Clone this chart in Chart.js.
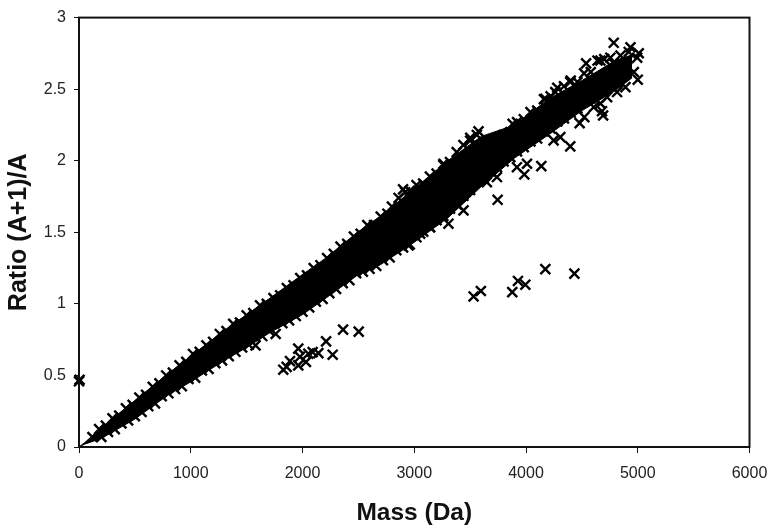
<!DOCTYPE html>
<html lang="en">
<head>
  <meta charset="UTF-8">
  <title>Ratio (A+1)/A vs Mass</title>
  <script src="https://cdn.jsdelivr.net/npm/chart.js"></script>
  <style>
    body { margin: 0; background: #fff; }
  </style>
</head>
<body>
  <canvas id="chart" width="772" height="525"></canvas>
  <script>
    const xTicks = [0, 1000, 2000, 3000, 4000, 5000, 6000];
    const yTicks = [0, 0.5, 1, 1.5, 2, 2.5, 3];

    // saturated middle of the cloud, too overplotted to read single marks: envelope only
    const coreMass = [0, 50, 200, 500, 800, 1000, 1300, 1500, 1700, 2000, 2200, 2500, 2700, 3000, 3300, 3600, 3900, 4200, 4500, 4800, 4950];
    const coreHigh = [0, 0.03, 0.135, 0.325, 0.515, 0.635, 0.815, 0.925, 1.035, 1.205, 1.315, 1.505, 1.615, 1.805, 2.0, 2.17, 2.25, 2.43, 2.56, 2.70, 2.74];
    const coreLow = [0, 0.02, 0.06, 0.195, 0.365, 0.455, 0.605, 0.695, 0.795, 0.925, 1.035, 1.205, 1.275, 1.43, 1.60, 1.82, 2.02, 2.18, 2.35, 2.49, 2.58];

    // marks on the upper edge of the cloud
    const upperMass = [120, 180, 240, 300, 360, 420, 480, 540, 600, 660, 720, 780, 840, 900, 960, 1020, 1080, 1140, 1200, 1260, 1320, 1380, 1440, 1500, 1560, 1620, 1680, 1740, 1800, 1860, 1920, 1980, 2040, 2100, 2160, 2220, 2280, 2340, 2400, 2460, 2520, 2580, 2640, 2700, 2760, 2800, 2860, 2900, 2960, 3020, 3080, 3140, 3200, 3260, 3320, 3380, 3440, 3500, 3560, 3620, 3680, 3740, 3800, 3860, 3920, 3980, 4040, 4100, 4160, 4220, 4280, 4340, 4400, 4460, 4520, 4580, 4640, 4700];
    const upperRatio = [0.07, 0.125, 0.15, 0.20, 0.22, 0.27, 0.295, 0.345, 0.365, 0.42, 0.445, 0.50, 0.52, 0.57, 0.595, 0.65, 0.665, 0.71, 0.735, 0.79, 0.81, 0.86, 0.87, 0.92, 0.935, 0.99, 1.0, 1.04, 1.06, 1.11, 1.13, 1.18, 1.20, 1.25, 1.27, 1.32, 1.35, 1.40, 1.42, 1.47, 1.49, 1.55, 1.55, 1.61, 1.63, 1.68, 1.74, 1.80, 1.79, 1.83, 1.84, 1.89, 1.91, 1.97, 1.99, 2.06, 2.11, 2.14, 2.18, 2.12, 2.12, 2.14, 2.18, 2.20, 2.27, 2.29, 2.34, 2.35, 2.43, 2.45, 2.51, 2.52, 2.56, 2.55, 2.61, 2.62, 2.70, 2.71];

    // marks on the lower edge of the cloud
    const lowerMass = [200, 260, 320, 380, 440, 500, 560, 620, 680, 740, 800, 860, 920, 980, 1040, 1100, 1160, 1220, 1280, 1340, 1400, 1460, 1520, 1580, 1640, 1700, 1760, 1820, 1880, 1940, 2000, 2060, 2120, 2180, 2240, 2300, 2360, 2420, 2480, 2540, 2600, 2660, 2720, 2780, 2840, 2900, 2960, 3020, 3080, 3140, 3200, 3260, 3320, 3380, 3440, 3500, 3560, 3620, 3680, 3740, 3800, 3860, 3920, 3980, 4040, 4100, 4160, 4220, 4280, 4340, 4400, 4460, 4520, 4580, 4640, 4700, 4760, 4820];
    const lowerRatio = [0.07, 0.105, 0.125, 0.165, 0.185, 0.215, 0.245, 0.285, 0.305, 0.355, 0.375, 0.405, 0.425, 0.475, 0.485, 0.535, 0.545, 0.585, 0.605, 0.635, 0.665, 0.695, 0.715, 0.71, 0.775, 0.815, 0.79, 0.865, 0.885, 0.915, 0.945, 0.975, 1.015, 1.035, 1.075, 1.105, 1.145, 1.165, 1.215, 1.225, 1.245, 1.265, 1.305, 1.325, 1.375, 1.395, 1.415, 1.465, 1.505, 1.535, 1.585, 1.615, 1.665, 1.695, 1.755, 1.795, 1.855, 1.875, 1.925, 1.955, 1.995, 2.025, 2.065, 2.095, 2.135, 2.155, 2.205, 2.225, 2.275, 2.295, 2.335, 2.365, 2.415, 2.435, 2.475, 2.485, 2.525, 2.545];

    // marks that stand apart and can be read one by one
    const looseMass = [0, 5, 1828, 1858, 1888, 1962, 1962, 1977, 2031, 2052, 2091, 2142, 2211, 2270, 2363, 2503, 3531, 3596, 3877, 3928, 3994, 4173, 4433, 3746, 4137, 3985, 4396, 4785, 4935, 5009, 5000, 4538, 4690, 4680, 4480, 4522, 4247, 4307, 4396, 4262, 4173, 3880, 3575, 3501, 3262, 2918, 3306, 3441, 3142, 3053, 2948, 4009, 3919, 3650, 3740, 4666, 4755, 4845, 4919, 4995, 4785, 4905, 4965, 4890, 4815, 4726, 4666, 4606];
    const looseRatio = [0.459, 0.47, 0.54, 0.56, 0.60, 0.687, 0.57, 0.63, 0.594, 0.652, 0.663, 0.656, 0.738, 0.645, 0.82, 0.806, 1.052, 1.09, 1.082, 1.16, 1.134, 1.243, 1.211, 1.727, 1.962, 1.904, 2.10, 2.824, 2.793, 2.751, 2.566, 2.68, 2.316, 2.346, 2.263, 2.305, 2.142, 2.165, 2.55, 2.479, 2.433, 2.258, 2.205, 2.16, 1.979, 1.78, 1.56, 1.653, 1.536, 1.49, 1.408, 1.979, 1.955, 1.85, 1.886, 2.70, 2.72, 2.735, 2.76, 2.72, 2.68, 2.65, 2.62, 2.514, 2.48, 2.444, 2.40, 2.374];

    function pairs(xs, ys) {
      return xs.map((x, i) => ({ x: x, y: ys[i] }));
    }

    const markPoints = pairs(upperMass, upperRatio)
      .concat(pairs(lowerMass, lowerRatio))
      .concat(pairs(looseMass, looseRatio));

    const frame = {
      id: 'frame',
      afterDatasetsDraw(chart) {
        const a = chart.chartArea;
        const ctx = chart.ctx;
        ctx.save();
        ctx.strokeStyle = '#111';
        ctx.lineWidth = 2;
        ctx.strokeRect(a.left, a.top, a.right - a.left, a.bottom - a.top);
        ctx.restore();
      }
    };

    new Chart(document.getElementById('chart'), {
      type: 'scatter',
      data: {
        datasets: [
          {
            data: markPoints,
            pointStyle: 'crossRot',
            pointRadius: 7,
            pointBorderWidth: 2.4,
            pointBorderColor: '#000',
            pointBackgroundColor: '#000',
            clip: false
          },
          {
            data: pairs(coreMass, coreHigh),
            showLine: true,
            pointRadius: 0,
            borderColor: '#000',
            borderWidth: 1,
            backgroundColor: '#000',
            fill: '+1'
          },
          {
            data: pairs(coreMass, coreLow),
            showLine: true,
            pointRadius: 0,
            borderColor: '#000',
            borderWidth: 1
          }
        ]
      },
      options: {
        responsive: false,
        animation: false,
        layout: { padding: { left: 0, top: 17, right: 22.5, bottom: 0 } },
        plugins: { legend: { display: false }, tooltip: { enabled: false } },
        scales: {
          x: {
            min: 0,
            max: 6000,
            afterFit(s) { s.height = 78; s.paddingRight = 0; },
            afterBuildTicks(s) { s.ticks = xTicks.map(v => ({ value: v })); },
            grid: { drawOnChartArea: false, tickLength: 6, tickColor: '#111' },
            border: { color: '#111', width: 2 },
            ticks: { padding: 11, maxRotation: 0, color: '#222', callback: v => String(v), font: { family: 'Liberation Sans', size: 16 } },
            title: { display: true, text: 'Mass (Da)', color: '#111', padding: 0, font: { family: 'Liberation Sans', size: 24.5, weight: 'bold', lineHeight: 1 } }
          },
          y: {
            min: 0,
            max: 3,
            afterFit(s) { s.width = 79; },
            afterBuildTicks(s) { s.ticks = yTicks.map(v => ({ value: v })); },
            grid: { drawOnChartArea: false, tickLength: 5, tickColor: '#111' },
            border: { color: '#111', width: 2 },
            ticks: { padding: 8, color: '#222', callback: v => String(v), font: { family: 'Liberation Sans', size: 16 } },
            title: { display: true, text: 'Ratio (A+1)/A', color: '#111', padding: { top: 4, bottom: 0 }, font: { family: 'Liberation Sans', size: 25, weight: 'bold' } }
          }
        }
      },
      plugins: [frame]
    });
  </script>
</body>
</html>
